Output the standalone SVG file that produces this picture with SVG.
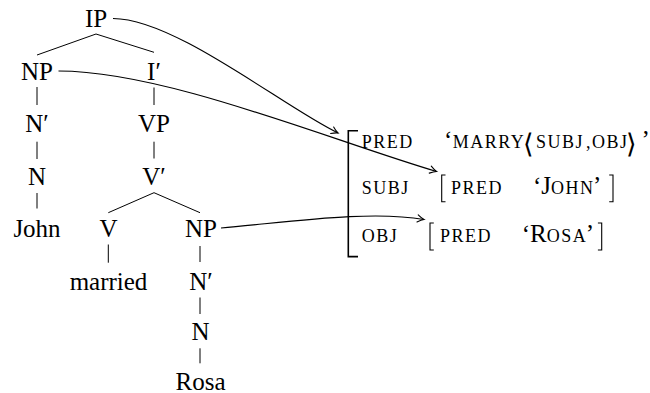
<svg xmlns="http://www.w3.org/2000/svg" width="650" height="393" viewBox="0 0 650 393">
  <style>
    .t { font-family: "Liberation Serif", "Times New Roman", serif; font-size: 25px; fill: #000; text-anchor: middle; }
    .r { font-family: "Liberation Serif", "Times New Roman", serif; font-size: 25px; fill: #000; }
    .sc { font-family: "Liberation Serif", "Times New Roman", serif; font-size: 18px; letter-spacing: 1.5px; fill: #000; }
    .ang { font-family: "DejaVu Sans", sans-serif; font-weight: 200; font-size: 27px; letter-spacing: 0; }
    .e { stroke: #000; stroke-width: 1; fill: none; }
    .a { stroke: #000; stroke-width: 1.2; fill: none; marker-end: url(#arr); }
    .br { stroke: #000; stroke-width: 1.1; fill: none; }
    .bb { stroke: #000; stroke-width: 1.6; fill: none; }
  </style>
  <defs>
    <marker id="arr" markerUnits="userSpaceOnUse" markerWidth="12" markerHeight="12" refX="0" refY="0" orient="auto" overflow="visible">
      <path d="M -6.5,-3.6 Q -2.5,-0.8 0,0 Q -2.5,0.8 -6.5,3.6" stroke="#000" stroke-width="1.1" fill="none" stroke-linecap="round"/>
    </marker>
  </defs>

  <!-- tree nodes -->
  <g id="n-ip"><text class="t" x="96" y="27">IP</text></g>
  <g id="n-np1"><text class="t" x="37" y="79.5">NP</text></g>
  <g id="n-ibar"><text class="t" x="154" y="79.5">I′</text></g>
  <g id="n-nbar1"><text class="t" x="37" y="132">N′</text></g>
  <g id="n-vp"><text class="t" x="154" y="132">VP</text></g>
  <g id="n-n1"><text class="t" x="37" y="184.5">N</text></g>
  <g id="n-vbar"><text class="t" x="154" y="184.5">V′</text></g>
  <g id="n-john"><text class="t" x="37" y="237">John</text></g>
  <g id="n-v"><text class="t" x="108.5" y="237">V</text></g>
  <g id="n-np2"><text class="t" x="201" y="237">NP</text></g>
  <g id="n-married"><text class="t" x="108.5" y="289.5">married</text></g>
  <g id="n-nbar2"><text class="t" x="201" y="289.5">N′</text></g>
  <g id="n-n2"><text class="t" x="200.5" y="340">N</text></g>
  <g id="n-rosa"><text class="t" x="200.5" y="389.5">Rosa</text></g>

  <!-- f-structure -->
  <g id="n-fstruct">
    <path class="bb" d="M 358,130.8 H 348.3 V 256.6 H 358"/>
    <text class="sc" x="361.7" y="148">PRED</text>
    <text class="r" y="148"><tspan x="444">‘</tspan><tspan class="sc" x="452.7">MARRY</tspan><tspan class="ang" x="523" y="152.5">⟨</tspan><tspan class="sc" x="536" y="148">SUBJ</tspan><tspan class="sc" x="586">,</tspan><tspan class="sc" x="592">OBJ</tspan><tspan class="ang" x="626" y="152.5">⟩</tspan><tspan x="641.5" y="148">’</tspan></text>

    <text class="sc" x="361.7" y="193.5">SUBJ</text>
    <g id="n-fsubj">
      <path class="br" d="M 445.5,175 H 441.7 V 201.7 H 445.5"/>
      <text class="sc" x="451" y="193.5">PRED</text>
      <text class="r" y="193.5"><tspan x="533">‘J</tspan><tspan class="sc">OHN</tspan><tspan dx="-1.5">’</tspan></text>
      <path class="br" d="M 609.2,175 H 613 V 201.7 H 609.2"/>
    </g>

    <text class="sc" x="361.7" y="241.7">OBJ</text>
    <g id="n-fobj">
      <path class="br" d="M 433.8,223 H 430 V 250 H 433.8"/>
      <text class="sc" x="440" y="241.7">PRED</text>
      <text class="r" y="241.7"><tspan x="521.7">‘R</tspan><tspan class="sc">OSA</tspan><tspan dx="-1.5">’</tspan></text>
      <path class="br" d="M 597.9,223 H 601.7 V 250 H 597.9"/>
    </g>
  </g>

  <!-- connectors -->
  <g id="connectors">
    <path class="e" d="M 96,34 L 37,55 M 96,34 L 154,52.3"/>
    <path class="e" d="M 37,87 V 105 M 37,141.7 V 159 M 37,193 V 208.5"/>
    <path class="e" d="M 154,87.5 V 105 M 154,141.7 V 158.5"/>
    <path class="e" d="M 154,192.7 L 108.3,212.7 M 154,192.7 L 200,212.7"/>
    <path class="e" d="M 108.3,244.5 V 262.7 M 200,246 V 262 M 200,297.5 V 314 M 200,348.3 V 363.3"/>
    <path class="a" d="M 113,18.5 C 175,18.5 285,108 338,133"/>
    <path class="a" d="M 58.5,71 C 165,71 330,140 436.5,171.5"/>
    <path class="a" d="M 221,228 C 290,222 370,210 424,219.5"/>
  </g>
</svg>
